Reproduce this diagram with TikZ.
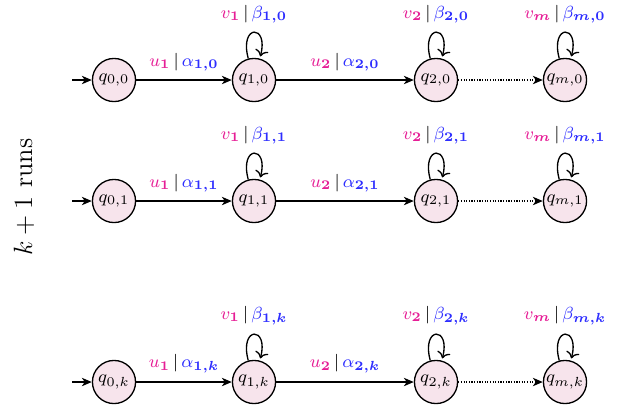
\documentclass[tikz,border=0pt]{standalone}
\usepackage{amsmath,amssymb}
\usetikzlibrary{arrows.meta,automata}
\definecolor{lblpink}{RGB}{230,30,150}
\definecolor{lblblue}{RGB}{45,45,255}
\definecolor{statefill}{RGB}{247,228,236}
\newcommand{\lbl}[2]{\textcolor{lblpink}{#1}\,|\,\textcolor{lblblue}{#2}}
\begin{document}
\begin{tikzpicture}[x=0.4545pt,y=-0.4545pt,
  st/.style={circle,draw,line width=0.6pt,fill=statefill,minimum size=19.6pt,inner sep=0pt,font=\footnotesize},
  tr/.style={line width=0.6pt,-{Stealth[length=4.5pt,width=3.8pt,inset=1.3pt]}},
  dottr/.style={tr,dash pattern=on 0.55pt off 0.65pt},
  lab/.style={font=\footnotesize,inner sep=3.6pt},
  looplab/.style={font=\footnotesize,inner sep=4pt}]
\useasboundingbox (0,0) rectangle (618,413);
\node[rotate=90,font=\large] (runs) at (24,197) {$k+1$ runs};
\foreach \r/\y in {0/80,1/201,k/382}{
  \node[st] (q0\r) at (114,\y) {$q_{0,\r}$};
  \node[st] (q1\r) at (254,\y) {$q_{1,\r}$};
  \node[st] (q2\r) at (436,\y) {$q_{2,\r}$};
  \node[st] (qm\r) at (565,\y) {$q_{m,\r}$};
  \coordinate (i\r) at (72,\y);
  \draw[tr] (i\r) -- (q0\r);
  \draw[tr] (q0\r) -- node[lab,above] {$\lbl{u_{\boldsymbol{1}}}{\alpha_{\boldsymbol{1,\r}}}$} (q1\r);
  \draw[tr] (q1\r) -- node[lab,above] {$\lbl{u_{\boldsymbol{2}}}{\alpha_{\boldsymbol{2,\r}}}$} (q2\r);
  \draw[dottr] (q2\r) -- (qm\r);
  \draw[tr] (q1\r) edge[loop above] node[looplab,above] {$\lbl{v_{\boldsymbol{1}}}{\beta_{\boldsymbol{1,\r}}}$} (q1\r);
  \draw[tr] (q2\r) edge[loop above] node[looplab,above] {$\lbl{v_{\boldsymbol{2}}}{\beta_{\boldsymbol{2,\r}}}$} (q2\r);
  \draw[tr] (qm\r) edge[loop above] node[looplab,above] {$\lbl{v_{\boldsymbol{m}}}{\beta_{\boldsymbol{m,\r}}}$} (qm\r);
}
\end{tikzpicture}
\end{document}
